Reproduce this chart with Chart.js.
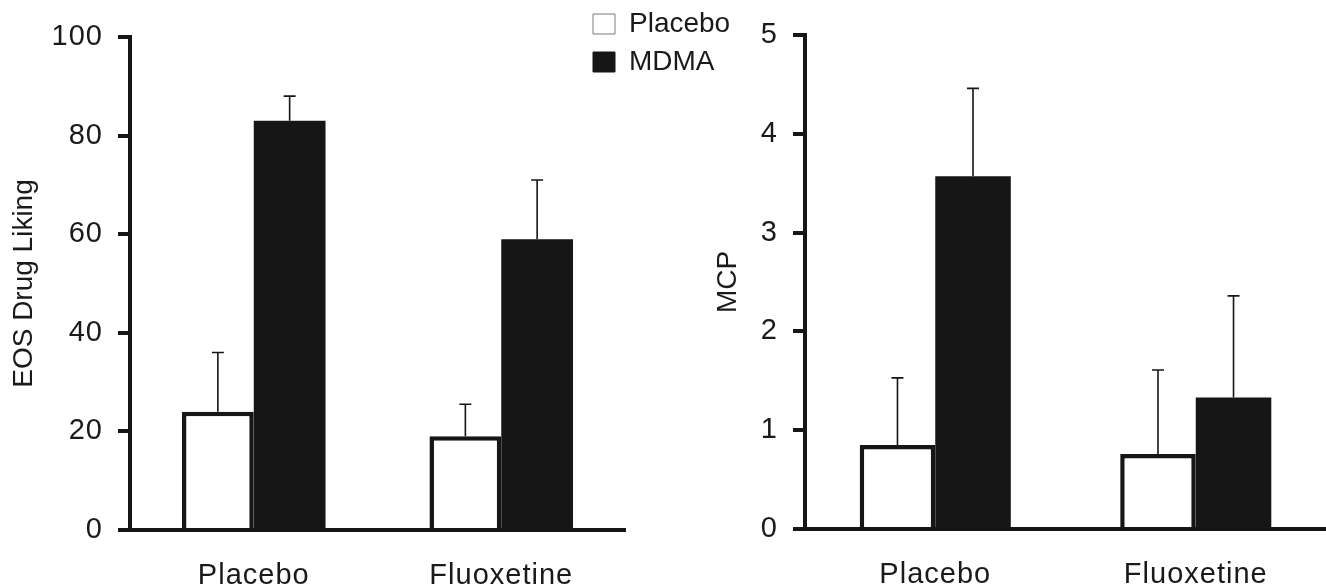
<!DOCTYPE html>
<html>
<head>
<meta charset="utf-8">
<script src="https://cdn.jsdelivr.net/npm/chart.js@4.4.1/dist/chart.umd.min.js"></script>
<style>
  html, body { margin: 0; padding: 0; background: #fff; }
  body { width: 1326px; height: 587px; position: relative; overflow: hidden; }
  .panel { position: absolute; top: 0; }
</style>
</head>
<body>
<div class="panel" style="left:0"><canvas id="liking" width="740" height="587"></canvas></div>
<div class="panel" style="left:700px"><canvas id="mcp" width="626" height="587"></canvas></div>
<script>
// categories / series
const categories = ['Placebo', 'Fluoxetine'];
const seriesNames = ['Placebo', 'MDMA'];

// EOS drug liking (left panel)
const likingPlacebo = [24, 19];
const likingPlaceboErr = [12, 6.5];
const likingMdma = [83, 59];
const likingMdmaErr = [5, 12];
const likingAxis = { min: 0, max: 100, step: 20 };

// MCP (right panel)
const mcpPlacebo = [0.85, 0.76];
const mcpPlaceboErr = [0.68, 0.85];
const mcpMdma = [3.57, 1.33];
const mcpMdmaErr = [0.89, 1.03];
const mcpAxis = { min: 0, max: 5, step: 1 };

const INK = '#161616';

Chart.defaults.font.family = "'Liberation Sans', Arial, sans-serif";
Chart.defaults.font.size = 28;
Chart.defaults.color = '#1a1a1a';

// draws one-sided (upward) error bars, using the y scale of the chart
const errorBars = {
    id: 'errorBars',
    afterDatasetsDraw(chart) {
        const ctx = chart.ctx;
        const yScale = chart.scales.y;
        chart.data.datasets.forEach((ds, i) => {
            const meta = chart.getDatasetMeta(i);
            meta.data.forEach((bar, j) => {
                const top = yScale.getPixelForValue(ds.data[j] + ds.errors[j]);
                ctx.save();
                ctx.strokeStyle = INK;
                ctx.lineWidth = 1.6;
                ctx.beginPath();
                ctx.moveTo(bar.x, bar.y);
                ctx.lineTo(bar.x, top);
                ctx.moveTo(bar.x - 6, top);
                ctx.lineTo(bar.x + 6, top);
                ctx.stroke();
                ctx.restore();
            });
        });
    }
};

// moves the legend to the top, between the two panels
const legendPlacer = {
    id: 'legendPlacer',
    afterLayout(chart, args, opts) {
        const lg = chart.legend;
        if (!lg || !opts.left) return;
        const w = lg.width, h = lg.height;
        lg.left = opts.left;
        lg.top = opts.top;
        lg.right = lg.left + w;
        lg.bottom = lg.top + h;
    }
};

// tick labels in the original are slightly letter-spaced
const spacedTicks = {
    id: 'spacedTicks',
    beforeDraw(chart) {
        Object.values(chart.scales).forEach(scale => {
            if (scale._spaced) return;
            const orig = scale.drawLabels;
            scale.drawLabels = function (area) {
                const c = this.ctx;
                const prev = c.letterSpacing;
                c.letterSpacing = '1px';
                orig.call(this, area);
                c.letterSpacing = prev;
            };
            scale._spaced = true;
        });
    }
};

function makeChart(canvasId, title, placebo, placeboErr, mdma, mdmaErr, axis, layout, showLegend) {
    const ctx = document.getElementById(canvasId).getContext('2d');

    const datasets = [
        {
            label: seriesNames[0],
            data: placebo,
            errors: placeboErr,
            backgroundColor: '#ffffff',
            borderColor: INK,
            borderWidth: 4.5,
            borderSkipped: 'bottom'
        },
        {
            label: seriesNames[1],
            data: mdma,
            errors: mdmaErr,
            backgroundColor: INK,
            borderWidth: 0
        }
    ];

    return new Chart(ctx, {
        type: 'bar',
        data: { labels: categories, datasets: datasets },
        plugins: [errorBars, legendPlacer, spacedTicks],
        options: {
            responsive: false,
            animation: false,
            datasets: { bar: { categoryPercentage: 0.58, barPercentage: 1.0 } },
            layout: { padding: { top: layout.top, right: layout.right, left: 0, bottom: 0 } },
            plugins: {
                tooltip: { enabled: false },
                legendPlacer: { left: layout.legendLeft, top: layout.legendTop },
                legend: {
                    display: showLegend,
                    position: 'chartArea',
                    align: 'start',
                    labels: {
                        boxWidth: 22,
                        boxHeight: 20,
                        padding: 10,
                        font: { size: 28 },
                        generateLabels(chart) {
                            const items = Chart.defaults.plugins.legend.labels.generateLabels(chart);
                            items.forEach(it => {
                                it.lineWidth = 1;
                                it.strokeStyle = it.datasetIndex === 0 ? '#7a7a7a' : INK;
                            });
                            return items;
                        }
                    }
                }
            },
            scales: {
                x: {
                    grid: { display: false, drawTicks: false },
                    border: { display: true, color: INK, width: 4 },
                    ticks: { padding: 29, font: { size: 29 } },
                    afterFit(scale) { scale.height = layout.xHeight; }
                },
                y: {
                    min: axis.min,
                    max: axis.max,
                    ticks: { stepSize: axis.step, padding: 15, font: { size: 29 } },
                    grid: { drawOnChartArea: false, drawTicks: true, tickLength: 12, lineWidth: 4, color: INK },
                    border: { display: true, color: INK, width: 4 },
                    title: { display: true, text: title, padding: { top: layout.titlePad, bottom: 0 } },
                    afterFit(scale) { scale.width = layout.yWidth; }
                }
            }
        }
    });
}

makeChart('liking', 'EOS Drug Liking', likingPlacebo, likingPlaceboErr, likingMdma, likingMdmaErr, likingAxis,
    { top: 37, right: 115, xHeight: 57, yWidth: 130, titlePad: 7, legendLeft: 583, legendTop: 0 }, true);

makeChart('mcp', 'MCP', mcpPlacebo, mcpPlaceboErr, mcpMdma, mcpMdmaErr, mcpAxis,
    { top: 35, right: 0, xHeight: 58, yWidth: 105, titlePad: 11 }, false);
</script>
</body>
</html>
